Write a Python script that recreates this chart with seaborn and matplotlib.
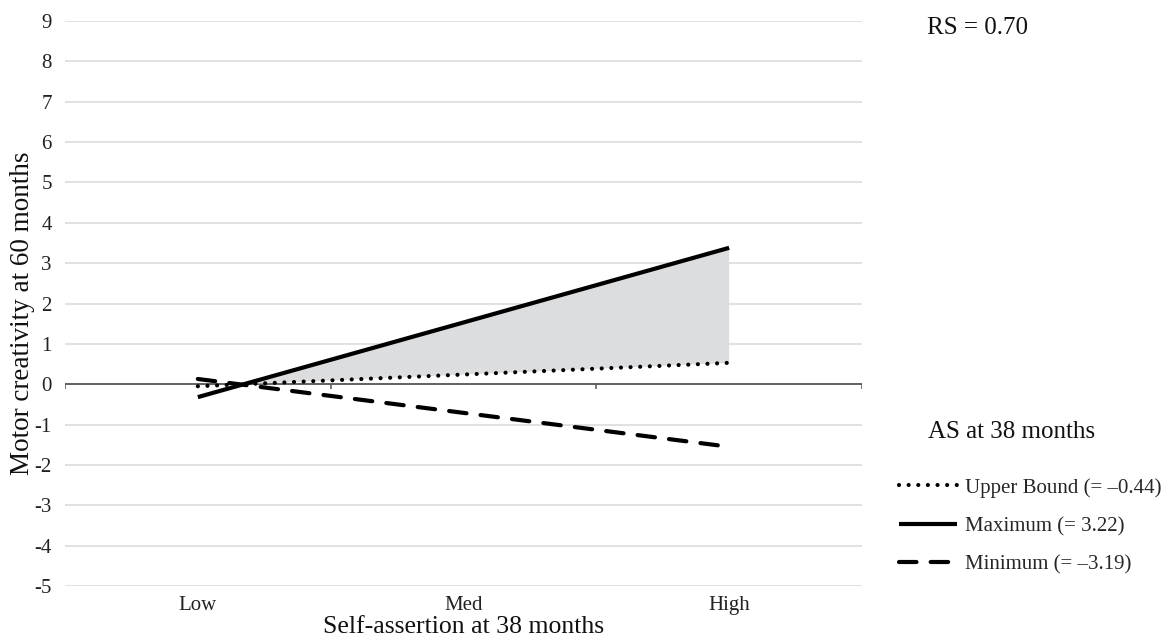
import matplotlib
matplotlib.use("Agg")
import matplotlib.pyplot as plt
from matplotlib.lines import Line2D
import numpy as np
import seaborn as sns

# --- datos ---
categories = ["Low", "Med", "High"]
line_x = [0, 2]  # la recta va de Low a High
upper_bound = [-0.05, 0.53]
maximum = [-0.32, 3.38]
minimum = [0.13, -1.55]
series_labels = ["Upper Bound (= \u20130.44)", "Maximum (= 3.22)", "Minimum (= \u20133.19)"]
y_ticks = list(range(-5, 10))

sns.set_theme(style="white")
plt.rcParams["font.family"] = ["Liberation Serif", "DejaVu Serif"]
plt.rcParams["axes.unicode_minus"] = False

W, H = 1168, 640
fig = plt.figure(figsize=(W / 100, H / 100), dpi=100)
ax = fig.add_axes([65 / W, 1 - 586 / H, (862 - 65) / W, (586 - 21) / H])

GRID = "#d9d9d9"
for y in y_ticks:
    if y != 0:
        ax.axhline(y, color=GRID, lw=1.1, zorder=0)
ax.axhline(0, color="#555555", lw=1.3, zorder=1)
# marcas pequeñas en los límites de categoría del eje 0
ax.vlines([-0.5, 0.5, 1.5, 2.5], -0.12, 0, color="#555555", lw=1.1, zorder=1)

# zona sombreada entre máximo y límite superior (desde el cruce hasta High)
xs = np.array(line_x, dtype=float)
mx, ub = np.array(maximum), np.array(upper_bound)
t_cross = (ub[0] - mx[0]) / ((mx[1] - mx[0]) - (ub[1] - ub[0]))
x_cross = xs[0] + t_cross * (xs[1] - xs[0])
ax.fill([x_cross, xs[1], xs[1]], [mx[0] + t_cross * (mx[1] - mx[0]), mx[1], ub[1]],
        color="#dcdddf", lw=0, zorder=2)

dotted = (0, (0.01, 2.3))
dashed = (0, (4.2, 3.4))
styles = [
    dict(linestyle=dotted, lw=3.0, dash_capstyle="round"),
    dict(linestyle="-", lw=3.0, solid_capstyle="butt"),
    dict(linestyle=dashed, lw=3.0, dash_capstyle="round"),
]
for vals, st in zip([upper_bound, maximum, minimum], styles):
    sns.lineplot(x=line_x, y=vals, ax=ax, color="black", zorder=3, **st)

ax.set_xlim(-0.5, 2.5)
ax.set_ylim(-5, 9)
ax.set_yticks(y_ticks)
ax.set_yticklabels([str(v) for v in y_ticks])
ax.set_xticks(range(len(categories)))
ax.set_xticklabels(categories)
ax.tick_params(axis="both", length=0, labelsize=15, colors="#222222")
ax.tick_params(axis="y", pad=9.5)
ax.tick_params(axis="x", pad=7)
for s in ax.spines.values():
    s.set_visible(False)
ax.grid(False)
ax.set_xlabel("Self-assertion at 38 months", fontsize=18.5, color="#111111", va="center")
ax.xaxis.set_label_coords(0.5, -0.0726)
ax.set_ylabel("Motor creativity at 60 months", fontsize=19.5, color="#111111", va="center")
ax.yaxis.set_label_coords(-0.0527, 0.483)

fig.text(927 / W, 1 - 28 / H, "RS = 0.70", fontsize=18, va="center", ha="left", color="#111111")
fig.text(928 / W, 1 - 432 / H, "AS at 38 months", fontsize=18, va="center", ha="left", color="#111111")

handles = [Line2D([], [], color="black", **st) for st in styles]
leg = fig.legend(handles, series_labels, loc="upper left",
                 bbox_to_anchor=(899 / W, 1 - 478 / H), bbox_transform=fig.transFigure,
                 frameon=False, fontsize=15, handlelength=2.8, handletextpad=0.35,
                 labelspacing=0.9, borderpad=0, borderaxespad=0)

fig.savefig("out.png", dpi=100)
